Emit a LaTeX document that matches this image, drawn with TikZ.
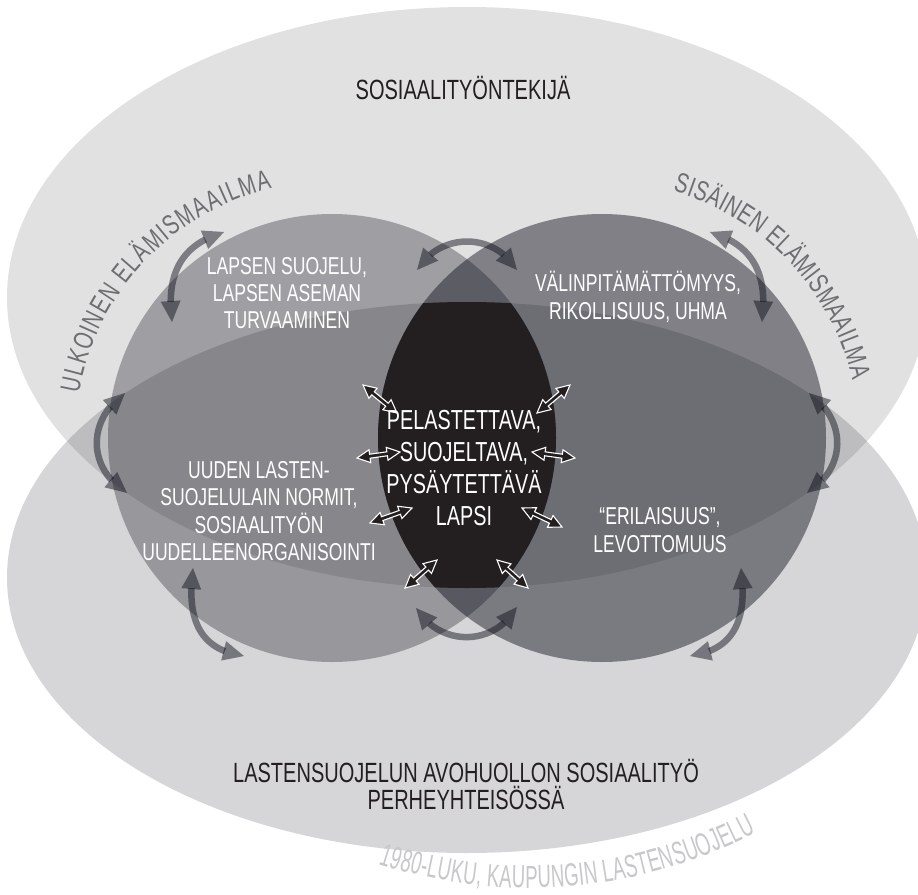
\documentclass[tikz,border=0pt]{standalone}
\usepackage{fontspec}
\usetikzlibrary{arrows.meta,bending,calc,decorations.text}
\newfontfamily\cnd{Liberation Sans}[FakeStretch=0.72]
\newfontfamily\cndn{Liberation Sans}[FakeStretch=0.58]
\newcommand\fblk{\cnd\fontsize{27.8}{30}\selectfont}
\newcommand\flgt{\cndn\fontsize{32}{34}\selectfont}
\newcommand\fwht{\cnd\fontsize{24.4}{27.4}\selectfont}
\newcommand\fctr{\cnd\fontsize{27.5}{31.7}\selectfont}
\definecolor{inkc}{RGB}{35,31,32}
\definecolor{shadec}{RGB}{12,12,24}
\definecolor{graytxt}{RGB}{109,110,113}
\definecolor{lighttxt}{RGB}{199,200,202}
\newcommand\smallarr[2]{%
 \filldraw[sarr] (#1) -- ($(#1)!13pt!(#2)!6.5pt!90:(#2)$) -- ($(#1)!13pt!(#2)!2pt!90:(#2)$)
  -- ($(#2)!13pt!(#1)!2pt!90:(#2)$) -- ($(#2)!13pt!(#1)!6.5pt!90:(#2)$) -- (#2)
  -- ($(#2)!13pt!(#1)!6.5pt!-90:(#2)$) -- ($(#2)!13pt!(#1)!2pt!-90:(#2)$)
  -- ($(#1)!13pt!(#2)!2pt!-90:(#2)$) -- ($(#1)!13pt!(#2)!6.5pt!-90:(#2)$) -- cycle;}
\begin{document}
\begin{tikzpicture}[x=1pt,y=-1pt,
  ell/.style={fill=shadec, fill opacity=#1},
  bigarr/.style={draw=shadec, opacity=0.47, line width=6.5pt,
     >={Triangle[length=21pt,width=20pt,line width=0pt]}, <->},
  sarr/.style={fill=inkc, draw=white, line width=1.1pt, line join=miter},
  wlabel/.style={text=white, align=center, font=\fwht, inner sep=0pt},
  blabel/.style={text=inkc, font=\fblk, inner sep=0pt, anchor=base},
  clabel/.style={text=white, align=center, font=\fctr, inner sep=0pt}]
\useasboundingbox (0,0) rectangle (918,894);
\fill[white] (0,0) rectangle (918,894);
\clip (0,0) rectangle (918,894);
\coordinate (cT) at (467,297.5);
\coordinate (cB) at (467,577.5);
\coordinate (cL) at (332,438);
\coordinate (cR) at (602,438);
\coordinate (cA) at (530,398);
% layers
\fill[ell=0.12] (cT) ellipse [x radius=460, y radius=290.5];
\fill[ell=0.165] (cB) ellipse [x radius=460, y radius=275.5];
\fill[ell=0.31] (cL) circle [radius=224];
\fill[ell=0.45] (cR) circle [radius=224];
\begin{scope}
 \clip (cT) ellipse [x radius=460, y radius=290.5];
 \clip (cB) ellipse [x radius=460, y radius=275.5];
 \clip (cL) circle [radius=224];
 \fill[inkc] (cR) circle [radius=224];
\end{scope}
% big curved arrows
\coordinate (b1a) at (172,322); \coordinate (b1b) at (224,232);
\draw[bigarr] (b1a) .. controls (166,275) and (180,245) .. (b1b);
\coordinate (b2a) at (417,270); \coordinate (b2b) at (517,270);
\draw[bigarr] (b2a) .. controls (440,232) and (494,232) .. (b2b);
\coordinate (b3a) at (762,322); \coordinate (b3b) at (710,232);
\draw[bigarr] (b3a) .. controls (768,275) and (754,245) .. (b3b);
\coordinate (b4a) at (125,393); \coordinate (b4b) at (127,493);
\draw[bigarr] (b4a) .. controls (87,420) and (87,468) .. (b4b);
\coordinate (b5a) at (809,393); \coordinate (b5b) at (807,493);
\draw[bigarr] (b5a) .. controls (847,420) and (847,468) .. (b5b);
\coordinate (b6a) at (193,568); \coordinate (b6b) at (244,656);
\draw[bigarr] (b6a) .. controls (186,620) and (200,650) .. (b6b);
\coordinate (b7a) at (416,608); \coordinate (b7b) at (517,607);
\draw[bigarr] (b7a) .. controls (440,647) and (494,647) .. (b7b);
\coordinate (b8a) at (741,568); \coordinate (b8b) at (690,656);
\draw[bigarr] (b8a) .. controls (748,620) and (734,650) .. (b8b);
% small arrows
\coordinate (s1a) at (363,385); \coordinate (s1b) at (397,413);
\coordinate (s2a) at (570,385); \coordinate (s2b) at (537,413);
\coordinate (s3a) at (357,458); \coordinate (s3b) at (400,452);
\coordinate (s4a) at (575,458); \coordinate (s4b) at (532,452);
\coordinate (s5a) at (370,523); \coordinate (s5b) at (412,508);
\coordinate (s6a) at (562,527); \coordinate (s6b) at (522,508);
\coordinate (s7a) at (405,588); \coordinate (s7b) at (437,560);
\coordinate (s8a) at (528,588); \coordinate (s8b) at (497,560);
\smallarr{s1a}{s1b}\smallarr{s2a}{s2b}\smallarr{s3a}{s3b}\smallarr{s4a}{s4b}
\smallarr{s5a}{s5b}\smallarr{s6a}{s6b}\smallarr{s7a}{s7b}\smallarr{s8a}{s8b}
% curved texts
\path[decorate, decoration={text along path, text align={fit to path}, text color=graytxt,
  text={|\fblk|ULKOINEN ELÄMISMAAILMA}}]
  ($(cL)+(190:257)$) arc [start angle=190, end angle=256.5, radius=257];
\path[decorate, decoration={text along path, text align={fit to path}, text color=graytxt,
  text={|\fblk|SISÄINEN ELÄMISMAAILMA}}]
  ($(cR)+(-74:257)$) arc [start angle=-74, end angle=-13, radius=257];
\path[decorate, decoration={text along path, text align={fit to path}, text color=lighttxt,
  text={|\flgt|1980-LUKU, KAUPUNGIN LASTENSUOJELU}}]
  ($(cA)+(108:490)$) arc [start angle=108, end angle=62.5, radius=490];
% labels
\node[blabel] (sosi) at (463,99) {SOSIAALITYÖNTEKIJÄ};
\node[blabel] (last1) at (466,782) {LASTENSUOJELUN AVOHUOLLON SOSIAALITYÖ};
\node[blabel] (last2) at (466,809) {PERHEYHTEISÖSSÄ};
\node[wlabel] (lapsen) at (287,293) {LAPSEN SUOJELU,\\LAPSEN ASEMAN\\TURVAAMINEN};
\node[wlabel] (valin) at (638,297) {VÄLINPITÄMÄTTÖMYYS,\\RIKOLLISUUS, UHMA};
\node[wlabel] (uuden) at (259,511) {UUDEN LASTEN-\\SUOJELULAIN NORMIT,\\SOSIAALITYÖN\\UUDELLEENORGANISOINTI};
\node[wlabel] (eril) at (660,530) {“ERILAISUUS”,\\LEVOTTOMUUS};
\node[clabel] (lapsi) at (464,468) {PELASTETTAVA,\\SUOJELTAVA,\\PYSÄYTETTÄVÄ\\LAPSI};
\end{tikzpicture}
\end{document}
